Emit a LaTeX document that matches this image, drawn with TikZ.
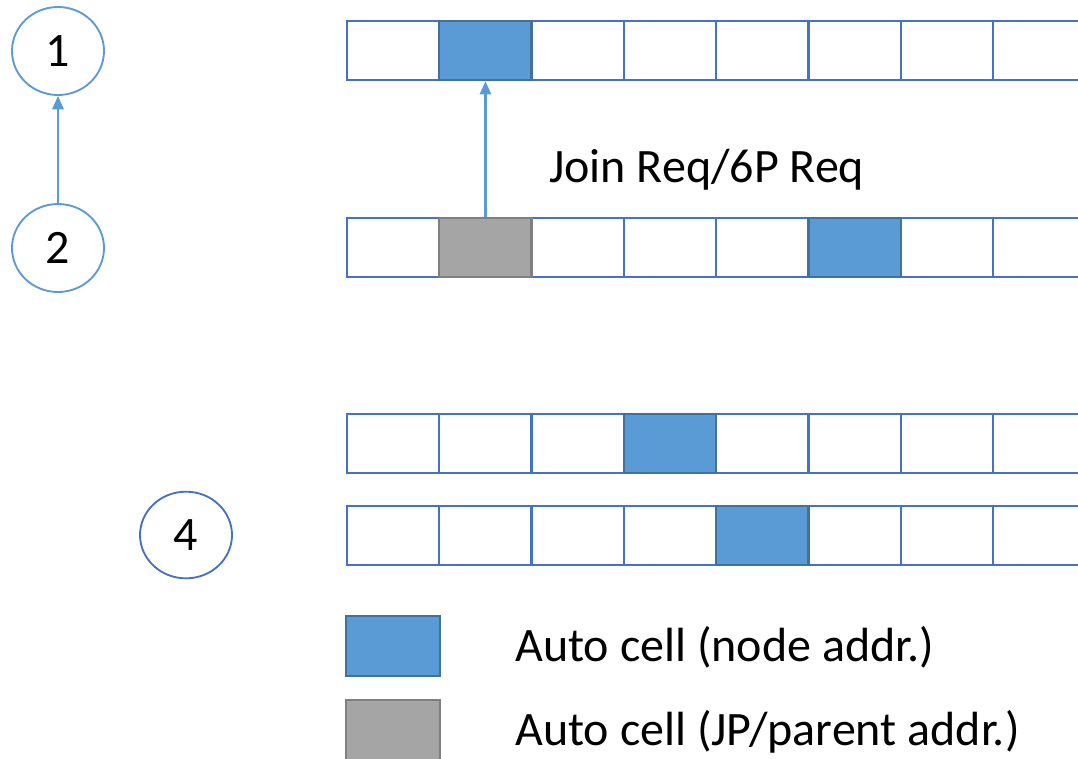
\documentclass[tikz,border=0pt]{standalone}
\usepackage{fontspec}
\setmainfont{Carlito}
\usetikzlibrary{arrows.meta,shapes.geometric}

\definecolor{cellline}{HTML}{4472C4}
\definecolor{autoblue}{HTML}{5B9BD5}
\definecolor{autoline}{HTML}{41719C}
\definecolor{jpgray}{HTML}{A5A5A5}
\definecolor{jpline}{HTML}{7F7F7F}
\definecolor{linkblue}{HTML}{5B9BD5}

\tikzset{
  cell/.style={rectangle, draw=cellline, fill=white, line width=1.7pt,
    inner sep=0pt, minimum width=69.2pt, minimum height=44.25pt},
  autocell/.style={cell, fill=autoblue, draw=autoline},
  jpcell/.style={cell, fill=jpgray, draw=jpline},
  peer/.style={ellipse, draw=linkblue, line width=1.4pt, inner sep=0pt,
    minimum width=69pt, minimum height=66pt, font=\fontsize{36}{43}\selectfont},
  peerdark/.style={peer, draw=cellline, minimum height=65pt},
  msg/.style={draw=linkblue, line width=1.6pt,
    -{Triangle[length=10pt,width=8.5pt]}},
  txt/.style={anchor=base west, inner sep=0pt, font=\fontsize{36}{43}\selectfont},
}

\begin{document}
\begin{tikzpicture}[x=0.75pt,y=-0.75pt]
  \useasboundingbox (0,0) rectangle (1078,758);
  \clip (0,0) rectangle (1078,758);

  % slot rows: four rows of nine cells, cut at the right edge
  \foreach \r/\yc in {1/50.5, 2/247.5, 3/443.5, 4/535.5} {
    \foreach \c in {1,...,9} {
      \node[cell] (r\r c\c) at ({347 + 92.3*(\c-0.5)}, \yc) {};
    }
  }

  % allocated cells, redrawn on top of the plain ones
  \node[autocell] (a1) at (r1c2) {};
  \node[jpcell]   (g2) at (r2c2) {};
  \node[autocell] (a2) at (r2c6) {};
  \node[autocell] (a3) at (r3c4) {};
  \node[autocell] (a4) at (r4c5) {};

  % nodes of the tree
  \node[peer] (n1) at (58,51) {1};
  \node[peer] (n2) at (58,248) {2};
  \node[peerdark] (n4) at (186,535) {4};

  \draw[msg] (n2.north) -- (n1.south);
  \draw[msg] (g2.north) -- (a1.south);

  \node[txt] (req) at (549,182) {Join Req/6P Req};

  % legend
  \node[autocell, minimum width=70.5pt, minimum height=45pt] (legblue) at (393,646) {};
  \node[jpcell, minimum width=70.5pt, minimum height=45pt] (leggray) at (393,730) {};
  \node[txt] (legbluetext) at (515,661) {Auto cell (node addr.)};
  \node[txt] (leggraytext) at (515,745) {Auto cell (JP/parent addr.)};
\end{tikzpicture}
\end{document}
